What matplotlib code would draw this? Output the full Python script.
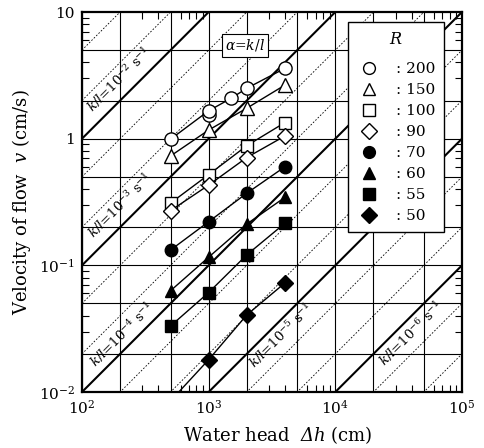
import numpy as np
import matplotlib.pyplot as plt
from matplotlib.lines import Line2D
from matplotlib.ticker import FixedLocator, NullFormatter

plt.rcParams['font.family'] = ['DejaVu Serif']
plt.rcParams['mathtext.fontset'] = 'custom'
plt.rcParams['mathtext.rm'] = 'DejaVu Serif'
plt.rcParams['mathtext.it'] = 'DejaVu Serif:italic'
plt.rcParams['mathtext.bf'] = 'DejaVu Serif:bold'
plt.rcParams['mathtext.sf'] = 'DejaVu Serif:italic'  # used for the italic capital Delta

# Measured velocity of flow (cm/s) against water head (cm), one series per R
R_values = [200, 150, 100, 90, 70, 60, 55, 50]
head_200 = [500, 1000, 1500, 2000, 4000]
v_200 = [0.99, 1.66, 2.08, 2.50, 3.59]
head_200_repeat = [1000]
v_200_repeat = [1.54]
head_4 = [500, 1000, 2000, 4000]
v_150 = [0.73, 1.17, 1.74, 2.65]
v_100 = [0.31, 0.52, 0.88, 1.34]
v_90 = [0.27, 0.43, 0.71, 1.05]
v_70 = [0.132, 0.221, 0.371, 0.60]
v_60 = [0.063, 0.116, 0.212, 0.344]
v_55 = [0.0332, 0.061, 0.121, 0.215]
head_50 = [1000, 2000, 4000]
v_50 = [0.018, 0.0406, 0.0726]
head_50_line = [500, 1000, 2000, 4000]
v_50_line = [0.0085, 0.018, 0.0406, 0.0726]

# k/l reference lines (1/s)
kl_exponents = [-7, -6, -5, -4, -3, -2, -1]
kl_labelled = [-2, -3, -4, -5, -6]

# x, y tick labels
x_ticks = [1e2, 1e3, 1e4, 1e5]
x_ticklabels = ['$10^2$', '$10^3$', '$10^4$', '$10^5$']
y_ticks = [1e-2, 1e-1, 1, 10]
y_ticklabels = ['$10^{-2}$', '$10^{-1}$', '1', '10']

fig = plt.figure(figsize=(4.85, 4.48), dpi=100)
ax = fig.add_axes([82 / 485, 56 / 448, 380 / 485, 380 / 448])
ax.set_xscale('log')
ax.set_yscale('log')
ax.set_xlim(1e2, 1e5)
ax.set_ylim(1e-2, 10)

# grid at 1, 2, 5 of each decade
for e in range(2, 5):
    for m in (1, 2, 5):
        ax.axvline(m * 10.0 ** e, color='black', lw=0.8, zorder=1)
for e in range(-2, 1):
    for m in (1, 2, 5):
        ax.axhline(m * 10.0 ** e, color='black', lw=0.8, zorder=1)

# diagonal k/l lines
dh = np.array([1e2, 1e5])
for e in kl_exponents:
    a = 10.0 ** e
    ax.plot(dh, a * dh, color='black', lw=1.5, zorder=2)
    for m in (2, 5):
        ax.plot(dh, m * a * dh, color='black', lw=0.6, ls=(0, (2, 2)), zorder=2)

# labels on the diagonals
label_head = [195, 200, 205, 3700, 39500]
label_ratio = [1.5, 1.5, 1.4, 0.76, 0.74]
for e, h, r in zip(kl_labelled, label_head, label_ratio):
    ax.text(h, r * 10.0 ** e * h, r'$k/l$=10$^{%d}$ s$^{-1}$' % e,
            rotation=45, ha='center', va='center', fontsize=9.5, zorder=5)

# series
open_kw = dict(mfc='white', mec='black', mew=1.0, color='black', lw=1.0, zorder=4)
full_kw = dict(mfc='black', mec='black', color='black', lw=1.0, zorder=4)
ax.plot(head_200, v_200, marker='o', ms=9.5, **open_kw)
ax.plot(head_200_repeat, v_200_repeat, marker='o', ms=9.5, ls='none',
        mfc='white', mec='black', zorder=3)
ax.plot(head_4, v_150, marker='^', ms=9.5, **open_kw)
ax.plot(head_4, v_100, marker='s', ms=8.5, **open_kw)
ax.plot(head_4, v_90, marker='D', ms=8, **open_kw)
ax.plot(head_4, v_70, marker='o', ms=9, **full_kw)
ax.plot(head_4, v_60, marker='^', ms=9, **full_kw)
ax.plot(head_4, v_55, marker='s', ms=8, **full_kw)
ax.plot(head_50_line, v_50_line, color='black', lw=1.0, zorder=4)
ax.plot(head_50, v_50, marker='D', ms=8, ls='none', mfc='black', mec='black', zorder=4)

# legend
markers = ['o', '^', 's', 'D', 'o', '^', 's', 'D']
fills = ['white'] * 4 + ['black'] * 4
handles = [Line2D([], [], ls='none', marker=mk, ms=8.5, mfc=fc, mec='black', mew=1.0)
           for mk, fc in zip(markers, fills)]
leg = ax.legend(handles, [': %d' % r for r in R_values], title='$R$',
                loc='upper right', bbox_to_anchor=(0.953, 0.974), borderaxespad=0,
                fontsize=11, title_fontsize=11.5, labelspacing=0.46, handletextpad=1.0,
                handlelength=1.5, borderpad=0.6, fancybox=False, framealpha=1,
                edgecolor='black')
leg.get_frame().set_linewidth(1.0)
leg._legend_box.sep = 10
leg.set_zorder(6)

ax.text(0.429, 0.913, r'$\alpha$=$k/l$', transform=ax.transAxes, ha='center', va='center',
        fontsize=10, zorder=6,
        bbox=dict(boxstyle='square,pad=0.25', fc='white', ec='black', lw=0.8))

# ticks
ax.xaxis.set_major_locator(FixedLocator(x_ticks))
ax.set_xticklabels(x_ticklabels)
ax.yaxis.set_major_locator(FixedLocator(y_ticks))
ax.set_yticklabels(y_ticklabels)
minor = [m * 10.0 ** e for e in range(-3, 6) for m in (3, 4, 6, 7, 8, 9)]
ax.xaxis.set_minor_locator(FixedLocator(minor))
ax.yaxis.set_minor_locator(FixedLocator(minor))
ax.xaxis.set_minor_formatter(NullFormatter())
ax.yaxis.set_minor_formatter(NullFormatter())
ax.tick_params(which='both', direction='in', top=True, right=True, labelsize=11)
ax.tick_params(which='major', length=0, pad=5)
ax.tick_params(which='minor', length=5, width=0.8)
for s in ax.spines.values():
    s.set_linewidth(1.6)

ax.set_xlabel('Water head  $\\mathsf{\u0394}\\mathit{h}$ (cm)', fontsize=13)
ax.set_ylabel(r'Velocity of flow  $v$ (cm/s)', fontsize=13)
ax.xaxis.set_label_coords(0.516, -0.085)
ax.yaxis.set_label_coords(-0.13, 0.5)

fig.savefig('out.png', dpi=100)
